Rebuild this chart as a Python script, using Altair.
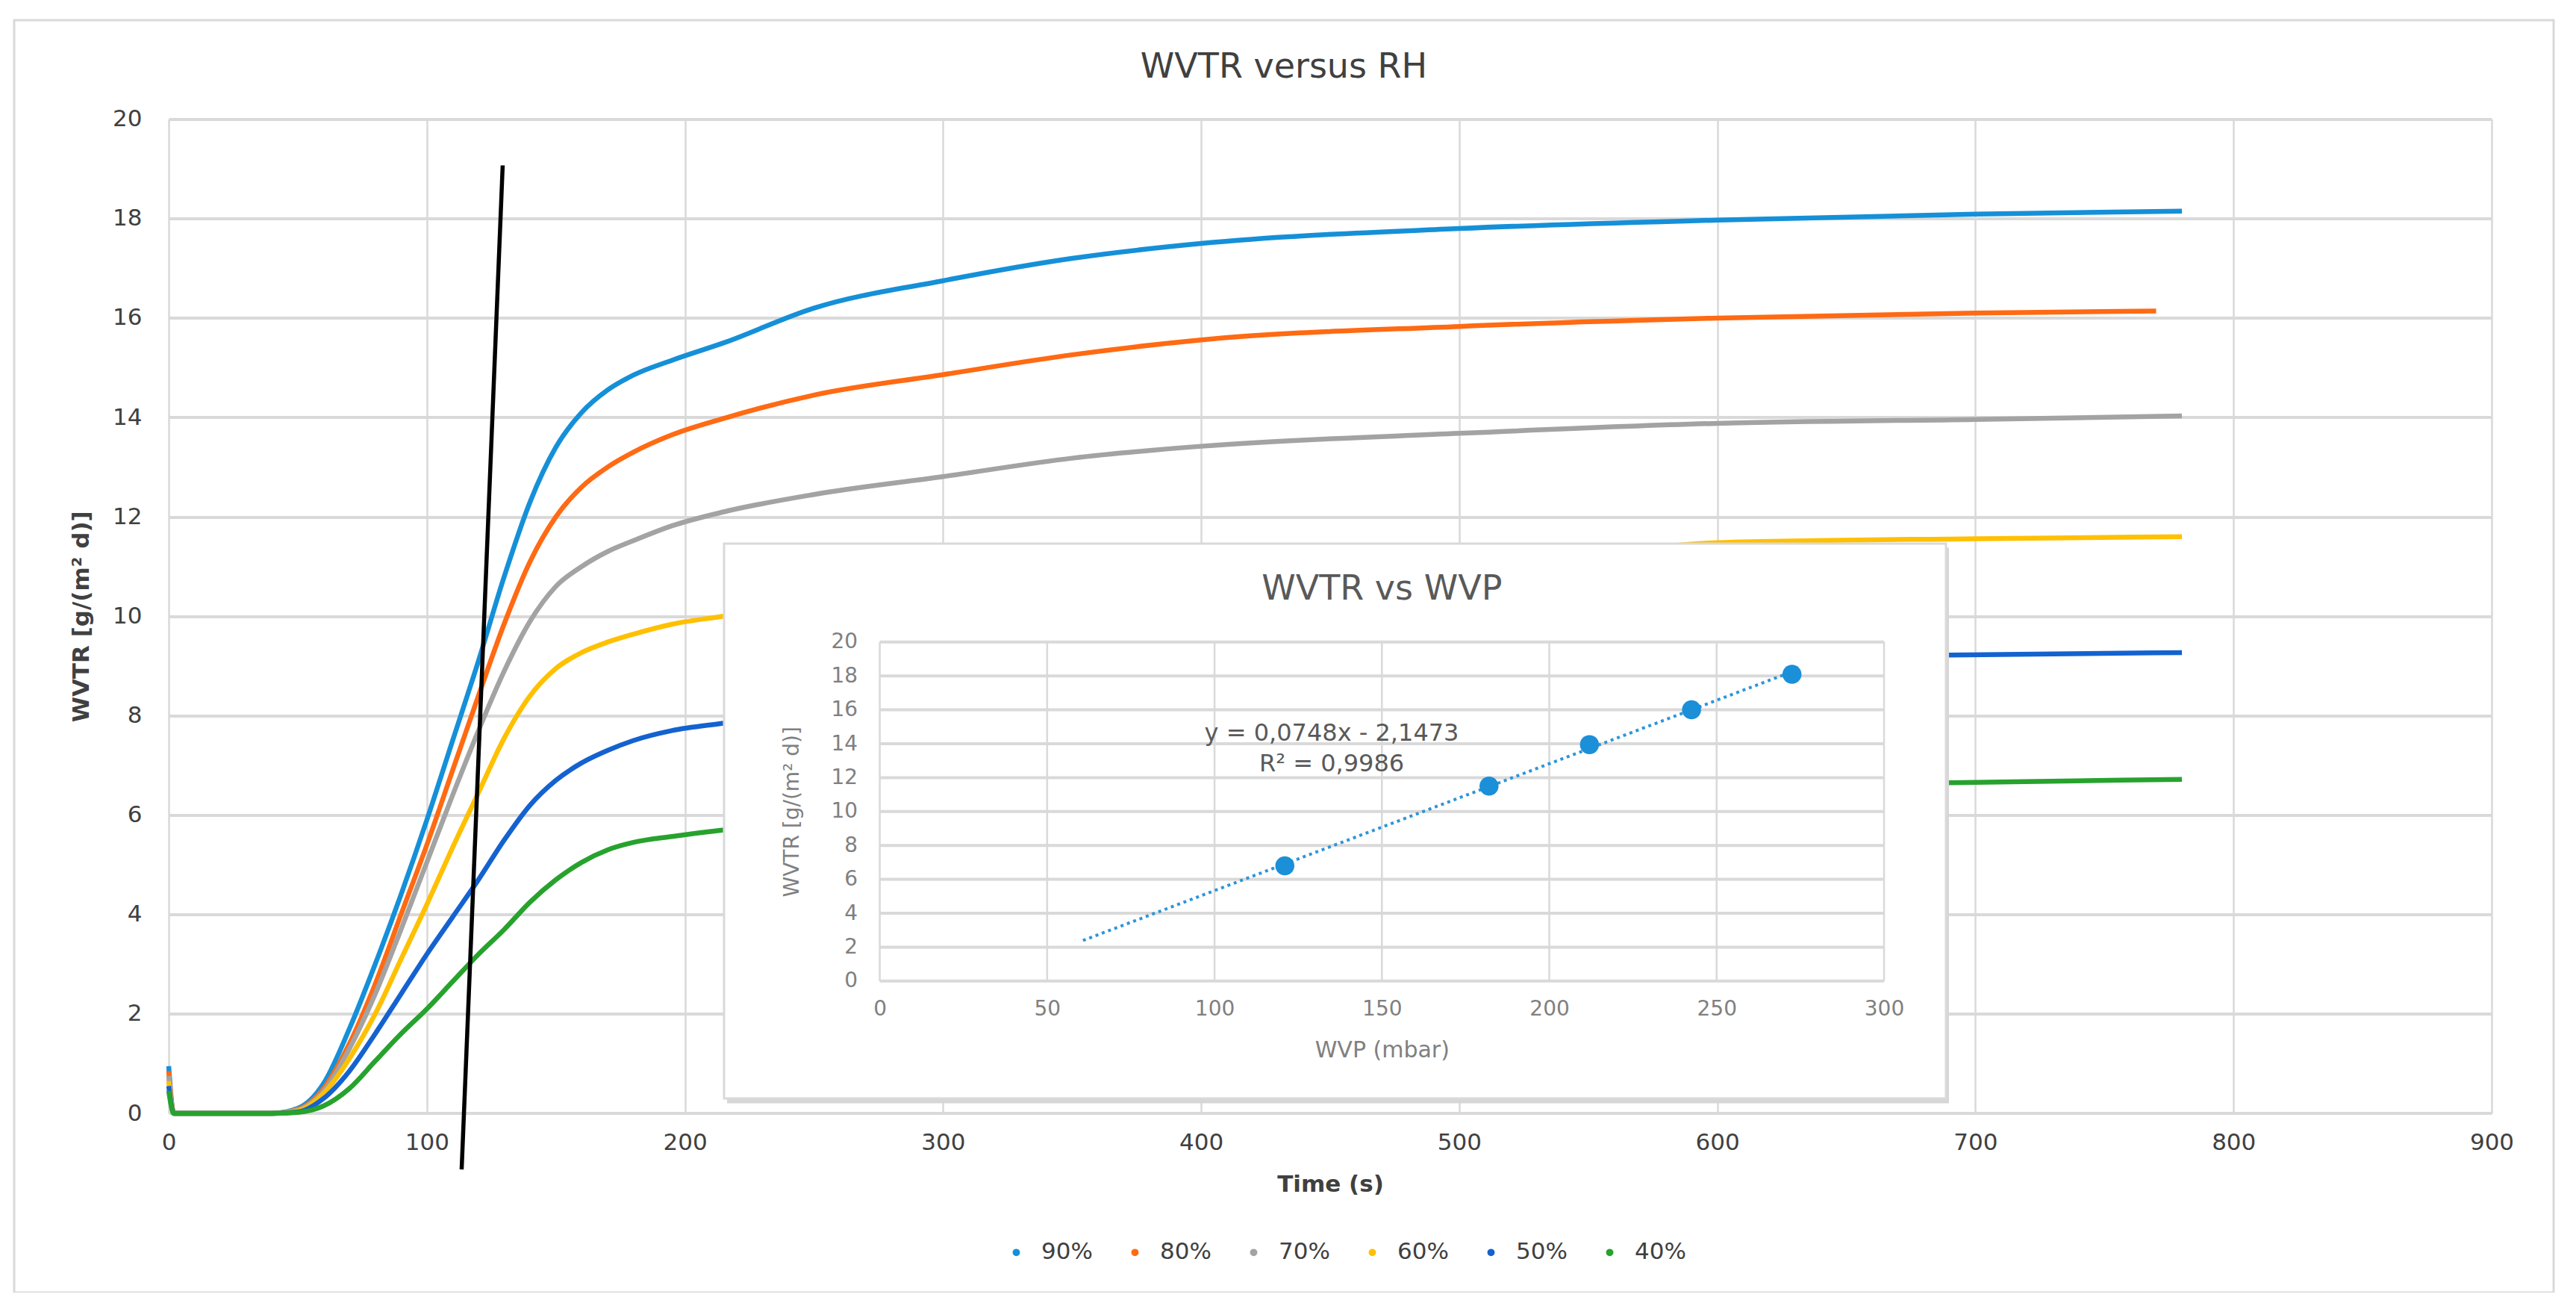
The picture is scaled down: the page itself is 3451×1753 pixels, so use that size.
import altair as alt
import pandas as pd

FONT = "DejaVu Sans"

# ---------------- main chart data ----------------
series = ["90%", "80%", "70%", "60%", "50%", "40%"]
colors = ["#1590D8", "#FF6A13", "#A3A3A3", "#FFC000", "#1462D0", "#27A22D"]

t90 = [0, 2, 40, 50, 60, 70, 80, 90, 100, 110, 120, 130, 140, 150, 160, 170, 180, 195, 215, 250, 300, 350, 400, 500, 600, 700, 780]
v90 = [0.95, 0, 0, 0.1, 0.6, 1.7, 3.0, 4.4, 5.9, 7.5, 9.1, 10.8, 12.3, 13.4, 14.1, 14.55, 14.85, 15.15, 15.5, 16.2, 16.75, 17.2, 17.5, 17.8, 17.97, 18.09, 18.15]

t80 = [0, 2, 40, 50, 60, 70, 80, 90, 100, 110, 120, 130, 140, 150, 160, 170, 180, 195, 215, 250, 300, 350, 400, 500, 600, 700, 770]
v80 = [0.85, 0, 0, 0.08, 0.5, 1.4, 2.6, 4.0, 5.4, 6.9, 8.4, 9.85, 11.1, 12.0, 12.6, 13.0, 13.3, 13.65, 13.98, 14.45, 14.86, 15.26, 15.56, 15.83, 16.0, 16.1, 16.14]

t70 = [0, 2, 40, 50, 60, 70, 80, 90, 100, 110, 120, 130, 140, 150, 160, 170, 180, 195, 215, 250, 300, 350, 400, 500, 600, 700, 780]
v70 = [0.75, 0, 0, 0.07, 0.45, 1.3, 2.4, 3.7, 5.05, 6.4, 7.7, 8.9, 9.9, 10.6, 11.0, 11.3, 11.52, 11.82, 12.1, 12.45, 12.81, 13.18, 13.42, 13.68, 13.88, 13.96, 14.03]

t60 = [0, 2, 40, 50, 60, 70, 80, 90, 100, 110, 120, 130, 140, 150, 160, 170, 180, 195, 215, 250, 300, 400, 500, 560, 600, 700, 780]
v60 = [0.65, 0, 0, 0.05, 0.4, 1.1, 2.0, 3.1, 4.2, 5.35, 6.45, 7.55, 8.4, 8.95, 9.27, 9.48, 9.64, 9.84, 10.0, 10.25, 10.5, 10.85, 11.12, 11.32, 11.48, 11.56, 11.6]

t50 = [0, 2, 40, 50, 60, 70, 80, 90, 100, 110, 120, 130, 140, 150, 160, 170, 180, 195, 215, 250, 300, 400, 500, 600, 690, 780]
v50 = [0.55, 0, 0, 0.03, 0.3, 0.85, 1.6, 2.4, 3.2, 3.95, 4.7, 5.5, 6.2, 6.7, 7.05, 7.3, 7.5, 7.7, 7.85, 8.1, 8.4, 8.8, 9.0, 9.12, 9.22, 9.27]

t40 = [0, 2, 40, 50, 60, 70, 80, 90, 100, 110, 120, 130, 140, 150, 160, 170, 180, 195, 215, 250, 300, 400, 500, 600, 690, 780]
v40 = [0.45, 0, 0, 0.02, 0.15, 0.5, 1.05, 1.6, 2.1, 2.65, 3.2, 3.7, 4.25, 4.7, 5.05, 5.3, 5.45, 5.57, 5.7, 5.85, 6.05, 6.3, 6.45, 6.57, 6.65, 6.72]

# black guide line (two end points)
black_t = [113.5, 129.4]
black_v = [-1.13, 19.07]

x_ticks = list(range(0, 901, 100))
y_ticks = list(range(0, 21, 2))

# ---------------- inset data ----------------
wvp = [121, 182, 212, 242.5, 272.5]
wvtr = [6.8, 11.5, 13.95, 16.0, 18.1]
trend_extent = [60.7, 272.5]
inset_x_ticks = list(range(0, 301, 50))
inset_y_ticks = list(range(0, 21, 2))
eq_text = ["y = 0,0748x - 2,1473", "R² = 0,9986"]
eq_wvp = [135, 135]
eq_wvtr = [14.6, 12.8]

# ---------------- build tables ----------------
rows = []
for name, ts, vs in zip(series, [t90, t80, t70, t60, t50, t40], [v90, v80, v70, v60, v50, v40]):
    for t, v in zip(ts, vs):
        rows.append({"t": t, "v": v, "rh": name})
df = pd.DataFrame(rows)
black_df = pd.DataFrame({"t": black_t, "v": black_v})
one = pd.DataFrame({"k": [0]})
pts_df = pd.DataFrame({"wvp": wvp, "wvtr": wvtr})
eq_df = pd.DataFrame({"wvp": eq_wvp, "wvtr": eq_wvtr, "label": eq_text})
hgrid_df = pd.DataFrame({"gy": inset_y_ticks})
vgrid_df = pd.DataFrame({"gx": inset_x_ticks})

W, H = 3112, 1331.4

# ---------------- main group ----------------
x_main = alt.Scale(domain=[0, 900], nice=False, zero=False)
y_main = alt.Scale(domain=[0, 20], nice=False)

x_axis = alt.Axis(values=x_ticks, title="Time (s)", grid=True, gridColor="#d9d9d9", gridWidth=2.5,
                  domain=False, ticks=False, labelFont=FONT, labelFontSize=31, labelColor="#404040",
                  labelPadding=24, labelFlush=False, titleFont=FONT, titleFontSize=31,
                  titleFontWeight="bold", titleColor="#404040", titleY=95, titleBaseline="middle")
y_axis = alt.Axis(values=y_ticks, title="WVTR [g/(m² d)]", grid=True, gridColor="#d9d9d9", gridWidth=4,
                  domain=False, ticks=False, labelFont=FONT, labelFontSize=31, labelColor="#404040",
                  labelPadding=36, labelFlush=False, titleFont=FONT, titleFontSize=31,
                  titleFontWeight="bold", titleColor="#404040", titleX=-117, titleAngle=270,
                  titleBaseline="middle")

frame_shadow = alt.Chart(one).mark_rule(color="#d9d9d9", strokeWidth=7).encode(
    x=alt.value(-204), x2=alt.value(3198), y=alt.value(1575))
frame = alt.Chart(one).mark_rect(fillOpacity=0, stroke="#d9d9d9", strokeWidth=3).encode(
    x=alt.value(-207), x2=alt.value(3195), y=alt.value(-132.6), y2=alt.value(1571.4))

lines = alt.Chart(df).mark_line(strokeWidth=6.5, interpolate="monotone").encode(
    x=alt.X("t:Q", scale=x_main, axis=x_axis),
    y=alt.Y("v:Q", scale=y_main, axis=y_axis),
    color=alt.Color("rh:N", scale=alt.Scale(domain=series, range=colors), sort=series,
                    legend=alt.Legend(orient="none", legendX=1120, legendY=1502, direction="horizontal",
                                      title=None, symbolType="circle", symbolSize=24, symbolStrokeWidth=5,
                                      labelFont=FONT, labelFontSize=31, labelColor="#404040",
                                      labelOffset=18, columnPadding=41)),
)

black = alt.Chart(black_df).mark_line(color="black", strokeWidth=5.5).encode(
    x=alt.X("t:Q", scale=x_main, axis=x_axis),
    y=alt.Y("v:Q", scale=y_main, axis=y_axis),
)

main = alt.layer(frame_shadow, frame, lines, black)

# ---------------- inset group ----------------
ix = alt.Scale(domain=[0, 300], range=[952.6, 2298], nice=False, zero=False)
iy = alt.Scale(domain=[0, 20], range=[1154.2, 700.2], nice=False)
GRAY = "#808080"
ix_axis = alt.Axis(orient="bottom", offset=-(H - 1154.2), values=inset_x_ticks, format="d", grid=False,
                   domain=False, ticks=False, tickSize=0, labelFont=FONT, labelFontSize=28,
                   labelColor=GRAY, labelPadding=24, labelFlush=False, title="WVP (mbar)",
                   titleFont=FONT, titleFontSize=30, titleFontWeight="normal", titleColor=GRAY,
                   titleY=93, titleBaseline="middle", zindex=2)
iy_axis = alt.Axis(orient="left", offset=-952.6, values=inset_y_ticks, format="d", grid=False,
                   domain=False, ticks=False, tickSize=0, labelFont=FONT, labelFontSize=28,
                   labelColor=GRAY, labelPadding=30, labelFlush=False, title="WVTR [g/(m² d)]",
                   titleFont=FONT, titleFontSize=28, titleFontWeight="normal", titleColor=GRAY,
                   titleX=-117, titleAngle=270, titleBaseline="middle", zindex=2)

shadow = alt.Chart(one).mark_rect(fill="#d6d6d6").encode(
    x=alt.value(748), x2=alt.value(2385), y=alt.value(574), y2=alt.value(1318))
box = alt.Chart(one).mark_rect(fill="white", stroke="#d9d9d9", strokeWidth=3).encode(
    x=alt.value(744), x2=alt.value(2381), y=alt.value(568.4), y2=alt.value(1311.4))

hgrid = alt.Chart(hgrid_df).mark_rule(color="#d9d9d9", strokeWidth=4).encode(
    y=alt.Y("gy:Q", scale=iy, axis=iy_axis), x=alt.datum(0), x2=alt.datum(300))
vgrid = alt.Chart(vgrid_df).mark_rule(color="#d9d9d9", strokeWidth=2.5).encode(
    x=alt.X("gx:Q", scale=ix, axis=ix_axis), y=alt.datum(0), y2=alt.datum(20))

trend = alt.Chart(pts_df).transform_regression("wvp", "wvtr", extent=trend_extent).mark_line(
    color="#2E95D8", strokeWidth=4, strokeDash=[4, 5]).encode(
    x=alt.X("wvp:Q", scale=ix, axis=ix_axis), y=alt.Y("wvtr:Q", scale=iy, axis=iy_axis))

points = alt.Chart(pts_df).mark_circle(size=650, color="#1B8FD8", opacity=1).encode(
    x=alt.X("wvp:Q", scale=ix, axis=ix_axis), y=alt.Y("wvtr:Q", scale=iy, axis=iy_axis))

eq = alt.Chart(eq_df).mark_text(font=FONT, fontSize=32, color="#595959", align="center",
                                baseline="middle").encode(
    x=alt.X("wvp:Q", scale=ix, axis=ix_axis), y=alt.Y("wvtr:Q", scale=iy, axis=iy_axis),
    text="label:N")

inset_title_df = pd.DataFrame({"wvp": [150], "wvtr": [20], "label": ["WVTR vs WVP"]})
inset_title = alt.Chart(inset_title_df).mark_text(font=FONT, fontSize=46, color="#595959",
                                                  align="center", baseline="middle", dy=-71).encode(
    x=alt.X("wvp:Q", scale=ix, axis=ix_axis), y=alt.Y("wvtr:Q", scale=iy, axis=iy_axis),
    text="label:N")

inset = alt.layer(shadow, box, hgrid, vgrid, trend, points, eq, inset_title)

chart = alt.layer(main, inset).resolve_scale(x="independent", y="independent").properties(
    width=W, height=H,
    title=alt.TitleParams("WVTR versus RH", font=FONT, fontSize=46, fontWeight="normal",
                          color="#404040", anchor="middle", dx=-62, dy=92),
    padding={"left": 218, "top": 151.6, "right": 100, "bottom": 240},
    autosize=alt.AutoSizeParams(type="none"),
).configure_view(stroke=None).configure(background="white")

chart.save("out.html", embed_options={"renderer": "svg", "actions": False})
